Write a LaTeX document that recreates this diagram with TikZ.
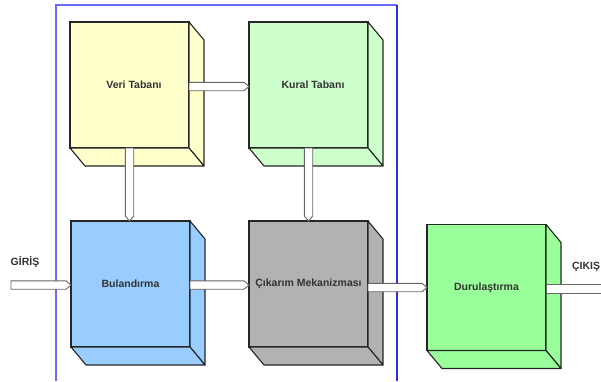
\documentclass[tikz,border=0pt]{standalone}
\usepackage{fontspec}
\setmainfont{Liberation Sans}
\usetikzlibrary{calc}

\definecolor{veriRenk}{HTML}{FFFFCC}
\definecolor{kuralRenk}{HTML}{CCFFCC}
\definecolor{bulanRenk}{HTML}{99CCFF}
\definecolor{cikarimRenk}{HTML}{B2B2B2}
\definecolor{durulRenk}{HTML}{99FF99}
\definecolor{cerceve}{HTML}{6A6AFF}
\definecolor{cerceveSag}{HTML}{2E2EE6}
\definecolor{yazi}{HTML}{333333}

\tikzset{
  kutu/.style={draw=black!85, line width=1.1pt, fill=#1, minimum width=119pt, minimum height=126pt,
    inner sep=0pt, outer sep=0pt, font=\fontsize{10.5}{12}\selectfont\bfseries, text=yazi},
  kaydir/.style={execute at begin node=\hspace*{9pt}},
  yuz/.style={draw=black!85, line width=1.1pt, fill=#1, line join=round},
  okblok/.style={draw=black!60, line width=0.9pt, fill=white, to path={
    let \p1=($(\tikztotarget)!5pt!(\tikztostart)$) in
    ($(\tikztostart)!4.2pt!90:(\tikztotarget)$) -- ($(\p1)!4.2pt!90:(\tikztotarget)$)
    -- (\tikztotarget) -- ($(\p1)!4.2pt!-90:(\tikztotarget)$)
    -- ($(\tikztostart)!4.2pt!-90:(\tikztotarget)$) -- cycle}},
  okduz/.style={draw=black!60, line width=0.9pt, fill=white, to path={
    ($(\tikztostart)!4.2pt!90:(\tikztotarget)$) -- ($(\tikztotarget)!4.2pt!-90:(\tikztostart)$)
    -- ($(\tikztotarget)!4.2pt!90:(\tikztostart)$) -- ($(\tikztostart)!4.2pt!-90:(\tikztotarget)$) -- cycle}},
  etiket/.style={font=\fontsize{10.5}{12}\selectfont\bfseries, text=yazi, inner sep=0pt}
}

\begin{document}
\begin{tikzpicture}[x=1pt,y=-1pt]
                \useasboundingbox (0,0) rectangle (601,381);
                % frame round the knowledge part
                \draw[cerceve, line width=1.4pt] (56,381) -- (56,5) -- (397,5);
                \draw[cerceveSag, line width=1.2pt] (397,5) -- (397,381);
                % boxes (front faces)
                \node[kutu=veriRenk, kaydir] (veri) at (129.5,85) {Veri Tabanı};
                \node[kutu=kuralRenk, kaydir] (kural) at (308.5,85) {Kural Tabanı};
                \node[kutu=bulanRenk] (bulan) at (130.5,284) {Bulandırma};
                \node[kutu=cikarimRenk] (cikarim) at (308.5,284) {Çıkarım Mekanizması};
                \node[kutu=durulRenk] (durul) at (486.5,287.5) {Durulaştırma};
                % side and bottom faces
                \foreach \n/\c in {veri/veriRenk,kural/kuralRenk,bulan/bulanRenk,cikarim/cikarimRenk,durul/durulRenk}{
                  \draw[yuz=\c] (\n.north east) -- ++(15,18) -- ++(0,126) -- (\n.south east) -- cycle;
                  \draw[yuz=\c] (\n.south west) -- ++(15,18) -- ++(119,0) -- (\n.south east) -- cycle;
                }
                % in and out
                \node[etiket] (giris) at (25,262) {GİRİŞ};
                \node[etiket] (cikis) at (586,267) {ÇIKIŞ};
                \coordinate (girisUc) at (11,285);
                \coordinate (cikisUc) at (604,289);
                % arrows
                \draw[okblok] ([yshift=-1.5pt]veri.east) to ([yshift=-1.5pt]kural.west);
                \draw[okblok] (veri.south) to (veri.south |- bulan.north);
                \draw[okblok] (kural.south) to (cikarim.north);
                \draw[okblok] ([yshift=-1pt]bulan.east) to ([yshift=-1pt]cikarim.west);
                \draw[okblok] (cikarim.east |- durul.west) to (durul.west);
                \draw[okblok] (girisUc) to (girisUc -| bulan.west);
                \draw[okduz] ([yshift=-1.5pt]durul.east) to (cikisUc);
\end{tikzpicture}
\end{document}
